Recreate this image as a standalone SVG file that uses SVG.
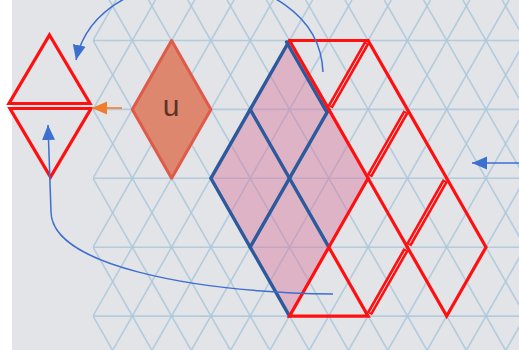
<svg xmlns="http://www.w3.org/2000/svg" width="519" height="350" viewBox="0 0 519 350">
<style>
.grid{fill:none;stroke:#a9c8dc;stroke-width:1.6;stroke-opacity:0.85}
.red{fill:none;stroke:#ff1010;stroke-width:3.2;stroke-linejoin:miter;stroke-linecap:round}
.dbl{fill:none;stroke:#ff1010;stroke-width:6;stroke-linecap:butt}
.gap{fill:none;stroke:#f4d8dc;stroke-width:1;stroke-linecap:butt}
.blue{fill:none;stroke:#2d5a9c;stroke-width:3.4;stroke-linecap:round}
.arr{fill:none;stroke:#3d6fcf;stroke-width:1.5}
</style>
<defs>
<clipPath id="gc"><rect x="93" y="0" width="426" height="350"/></clipPath>
<marker id="ab" markerUnits="userSpaceOnUse" markerWidth="16" markerHeight="14" refX="15" refY="7" orient="auto"><path d="M0,0.5 L15,7 L0,13.5 z" fill="#3d6fcf"/></marker>
<marker id="ao" markerUnits="userSpaceOnUse" markerWidth="16" markerHeight="14" refX="15" refY="7" orient="auto"><path d="M0,0.5 L15,7 L0,13.5 z" fill="#ef7d2f"/></marker>
</defs>
<rect x="0" y="0" width="519" height="350" fill="#e3e4e8"/>
<rect x="0" y="0" width="12" height="350" fill="#ffffff"/>
<g id="grid" class="grid" clip-path="url(#gc)">
<path d="M93,40.5H519M93,109.4H519M93,178.3H519M93,247.2H519M93,316.1H519"/>
<path d="M-87.3,0L112.4,350M-48,0L151.7,350M-8.7,0L191,350M30.6,0L230.3,350M69.9,0L269.6,350M109.2,0L308.9,350M148.5,0L348.2,350M187.8,0L387.5,350M227.1,0L426.8,350M266.4,0L466.1,350M305.7,0L505.4,350M345,0L544.7,350M384.3,0L584,350M423.6,0L623.3,350M462.9,0L662.6,350M502.2,0L701.9,350"/>
<path d="M116.1,0L-83.6,350M155.4,0L-44.3,350M194.7,0L-5,350M234,0L34.3,350M273.3,0L73.6,350M312.6,0L112.9,350M351.9,0L152.2,350M391.2,0L191.5,350M430.5,0L230.8,350M469.8,0L270.1,350M509.1,0L309.4,350M548.4,0L348.7,350M587.7,0L388,350M627,0L427.3,350M666.3,0L466.6,350M705.6,0L505.9,350"/>
</g>
<g id="pink-region">
<polygon points="289.5,40.5 368.1,178.3 289.5,316.1 210.9,178.3" fill="#d9789e" fill-opacity="0.45"/>
</g>
<g id="blue-rhombi" class="blue">
<path d="M289.5,40.5L210.9,178.3L289.5,316.1"/>
<path d="M250.2,109.4L328.8,247.2"/>
<path d="M328.8,109.4L250.2,247.2"/>
<path d="M286.5,42L325.8,110.5"/>
</g>
<g id="u-rhombus">
<polygon points="171.6,40.5 210.9,109.4 171.6,178.3 132.3,109.4" fill="#dc876e" stroke="#e05a4a" stroke-width="3" stroke-linejoin="round"/>
<text x="171" y="116" font-family="Liberation Sans, Arial, sans-serif" font-size="30" fill="#5e3226" text-anchor="middle">u</text>
</g>
<g id="left-triangles" class="red">
<polygon points="49.5,35 90,103.5 9,103.5"/>
<polygon points="10,108.5 91,108.5 50.5,177"/>
</g>
<g id="red-outline">
<g class="red">
<path d="M289.5,40.5H368.1"/>
<path d="M289.5,40.5L328.8,109.4L368.1,178.3"/>
<path d="M368.1,40.5L407.4,109.4L446.7,178.3L486,247.2L446.7,316.1L407.4,247.2"/>
<path d="M368.1,178.3L328.8,247.2L289.5,316.1H368.1L328.8,247.2"/>
<path d="M368.1,178.3L407.4,247.2"/>
</g>
<g class="dbl">
<path d="M366.8,42.8L330.1,107.1"/>
<path d="M406.1,111.7L369.4,176"/>
<path d="M445.4,180.6L408.7,244.9"/>
<path d="M406.1,249.5L369.4,313.8"/>
</g>
<g class="gap">
<path d="M366,44L331,105.5"/>
<path d="M405.3,113L370.2,174.5"/>
<path d="M444.6,182L409.5,243.5"/>
<path d="M405.3,251L370.2,312.5"/>
</g>
</g>
<g id="connectors">
<path class="arr" d="M323,72 C318,-45 100,-50 76,60" marker-end="url(#ab)"/>
<path class="arr" d="M333,294 C190,292 52,265 51,212 L48,125" marker-end="url(#ab)"/>
<path class="arr" d="M519,163 L472,163" marker-end="url(#ab)"/>
<path d="M122,108 L92,108" fill="none" stroke="#ef7d2f" stroke-width="1.6" marker-end="url(#ao)"/>
</g>
</svg>
